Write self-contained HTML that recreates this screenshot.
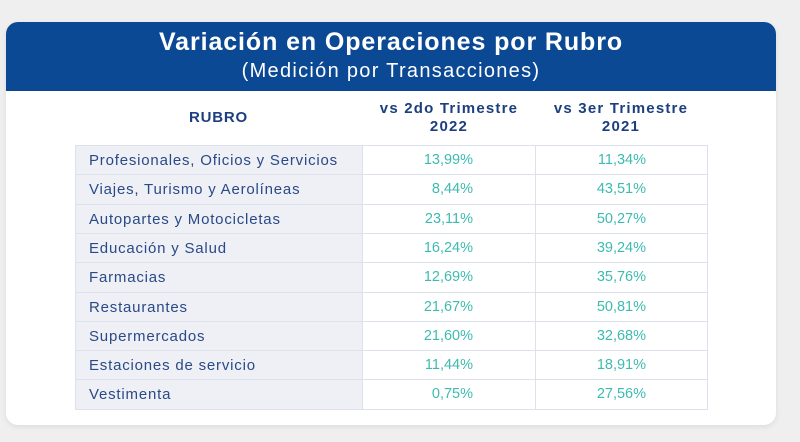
<!DOCTYPE html>
<html><head><meta charset="utf-8"><style>
body{margin:0;width:800px;height:442px;background:#efefef;font-family:"Liberation Sans",sans-serif;position:relative;overflow:hidden}
#card{position:absolute;left:6px;top:22px;width:770px;height:403px;background:#fff;border-radius:12px;box-shadow:0 2px 6px rgba(0,0,0,0.08);overflow:hidden}
#hdr{position:absolute;left:0;top:0;width:770px;height:69px;background:#0c4995}
.t{position:absolute;white-space:nowrap}
.cell{position:absolute;box-sizing:border-box;border:1px solid #dde1ec;font-size:14.5px;line-height:29px}
.cat{font-size:15px;letter-spacing:0.8px}
</style></head><body>
<div id="card">
<div id="hdr">
<div class="t" style="left:0;width:770px;text-align:center;top:6px;font-size:25px;font-weight:bold;color:#fff;letter-spacing:0.9px">Variación en Operaciones por Rubro</div>
<div class="t" style="left:0;width:770px;text-align:center;top:38px;font-size:20px;color:#fff;letter-spacing:1.3px">(Medición por Transacciones)</div>
</div>
<div class="t" style="left:69px;width:287px;text-align:center;top:87px;font-size:15px;font-weight:bold;color:#1d3f7f;letter-spacing:0.8px">RUBRO</div>
<div class="t" style="left:356px;width:174px;text-align:center;top:78px;font-size:15px;font-weight:bold;color:#1d3f7f;line-height:18px;letter-spacing:1.2px">vs 2do Trimestre<br>2022</div>
<div class="t" style="left:529px;width:172px;text-align:center;top:78px;font-size:15px;font-weight:bold;color:#1d3f7f;line-height:18px;letter-spacing:1.2px">vs 3er Trimestre<br>2021</div>
<div id="rows"></div>
</div>
<script>
const categories=["Profesionales, Oficios y Servicios","Viajes, Turismo y Aerolíneas","Autopartes y Motocicletas","Educación y Salud","Farmacias","Restaurantes","Supermercados","Estaciones de servicio","Vestimenta"];
const vs2022=["13,99%","8,44%","23,11%","16,24%","12,69%","21,67%","21,60%","11,44%","0,75%"];
const vs2021=["11,34%","43,51%","50,27%","39,24%","35,76%","50,81%","32,68%","18,91%","27,56%"];
const rows=document.getElementById('rows');
categories.forEach((c,i)=>{
  const top=Math.round(123+i*29.3);
  const nextTop=Math.round(123+(i+1)*29.3);
  const h=nextTop-top+1;
  const a=document.createElement('div');a.className='cell cat';
  
  
  a.style.cssText=`left:69px;top:${top}px;width:288px;height:${h}px;background:#eef0f6;color:#2a4a86;padding-left:13px`;
  a.textContent=c;rows.appendChild(a);
  [[vs2022,356,174],[vs2021,529,173]].forEach(([arr,x,w])=>{
    const b=document.createElement('div');b.className='cell';
    
    
    b.style.cssText=`left:${x}px;top:${top}px;width:${w}px;height:${h}px;color:#3dbbb0;text-align:right;padding-right:${w-112}px`;
    b.textContent=arr[i];rows.appendChild(b);
  });
});
</script>
</body></html>
